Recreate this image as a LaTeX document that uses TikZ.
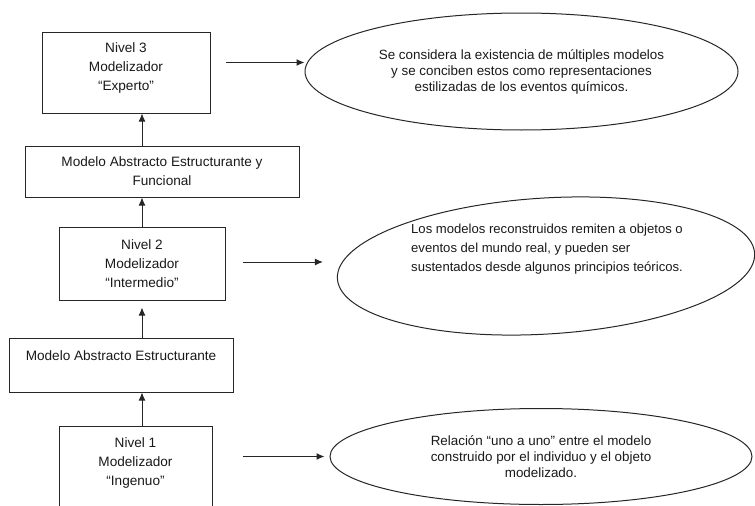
\documentclass[tikz,border=0pt]{standalone}
\usepackage{fontspec}
\setmainfont{Liberation Sans}
\usetikzlibrary{shapes.geometric,arrows.meta}
\begin{document}
\begin{tikzpicture}[x=1pt,y=-1pt]
\tikzset{
	caja/.style={draw=black!85, line width=1pt, text=black!90, align=center, inner sep=0pt,
		font=\fontsize{13.6}{19}\selectfont},
	elipse/.style={ellipse, draw=black!85, line width=1pt, text=black!90, align=center, inner sep=0pt,
		font=\fontsize{13.4}{16}\selectfont},
	flecha/.style={->,>={Latex[length=8pt,width=7pt]}, line width=1pt, black!85},
}
  \useasboundingbox (0,0) rectangle (755,506);
  \clip (0,0) rectangle (755,506);

 % niveles y modelos
  \node[caja, minimum width=168pt, minimum height=81pt] (n3) at (126,72.5) {Nivel 3\\Modelizador\\“Experto”\\[-7pt]\mbox{}};
  \node[caja, minimum width=274pt, minimum height=51pt] (maef) at (162,171.5) {Modelo Abstracto Estructurante y\\Funcional};
  \node[caja, minimum width=166pt, minimum height=73pt] (n2) at (142,263.5) {Nivel 2\\Modelizador\\“Intermedio”};
  \node[caja, minimum width=224pt, minimum height=54pt] (mae) at (121,365) {Modelo Abstracto Estructurante\\\mbox{}};
  \node[caja, minimum width=153pt, minimum height=90pt] (n1) at (135.5,471) {Nivel 1\\Modelizador\\“Ingenuo”\\\mbox{}};

 % flechas verticales
  \draw[flecha] (n2.north |- maef.north) -- (n2.north |- n3.south);
  \draw[flecha] (n2.north) -- (n2.north |- maef.south);
  \draw[flecha, shorten >=7pt] (n2.north |- mae.north) -- (n2.south);
  \draw[flecha] (n2.north |- n1.north) -- (n2.north |- mae.south);

 % descripciones
  \node[elipse, minimum width=433pt, minimum height=117pt] (e1) at (521.5,71.5)
    {Se considera la existencia de múltiples modelos\\y se conciben estos como representaciones\\estilizadas de los eventos químicos.};
  \node[elipse, rotate=3.5, minimum width=418pt, minimum height=136pt] (e2) at (546,266) {};
  \node[align=left, inner sep=0pt, anchor=north west, text=black!90,
    font=\fontsize{13.1}{19}\selectfont] (t2) at (411,224)
    {Los modelos reconstruidos remiten a objetos o\\eventos del mundo real, y pueden ser\\sustentados desde algunos principios teóricos.};
  \node[elipse, minimum width=422pt, minimum height=96pt] (e3) at (541,456.5)
    {Relación “uno a uno” entre el modelo\\construido por el individuo y el objeto\\modelizado.};

 % flechas horizontales
  \draw[flecha] ([xshift=15pt,yshift=10pt]n3.east) coordinate (a1) -- (a1 -| e1.west);
  \draw[flecha] ([xshift=17pt,yshift=1.5pt]n2.east) coordinate (a2) -- ([xshift=-14pt]a2 -| e2.west);
  \draw[flecha, shorten >=5pt] ([xshift=30pt]n1.east |- e3.west) coordinate (a3) -- (e3.west);
\end{tikzpicture}
\end{document}
